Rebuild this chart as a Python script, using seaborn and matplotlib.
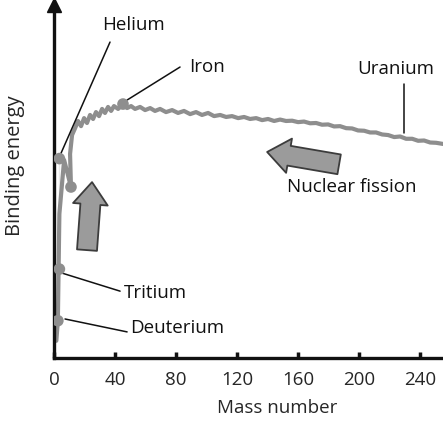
import numpy as np
import pandas as pd
import matplotlib
matplotlib.use("Agg")
import matplotlib.pyplot as plt
import seaborn as sns

# binding-energy curve (mass number, energy in MeV-ish units)
mass = [1.5, 2.5, 3.5, 3.5, 6.6, 11.1, 10.5, 10.5, 11.8,
        13.8, 15.7, 17.7, 19.7, 21.6, 23.6, 25.6, 27.5, 29.5, 31.5, 33.4, 35.4, 37.4, 39.3, 42.0, 45.2,
        47.9, 50.5, 53.1, 56.4, 59.7, 63.0, 66.2, 69.5, 73.4, 77.4, 81.3, 85.2, 89.2, 93.1, 97.0,
        101.0, 104.9, 108.9, 112.8, 116.7, 120.7, 124.6, 128.5, 132.5, 136.4, 140.3, 144.3, 148.2,
        152.1, 156.1, 160.0, 163.9, 167.9, 171.8, 175.7, 179.7, 183.6, 187.5, 191.5, 195.4, 199.3,
        203.3, 207.2, 211.1, 215.1, 219.0, 223.0, 226.9, 230.8, 234.8, 238.7, 242.6, 246.6, 250.5, 255.0]
binding = [0.6, 1.3, 3.1, 6.95, 6.9, 5.96, 6.9, 7.32, 7.77,
           8.01, 8.26, 8.08, 8.36, 8.19, 8.47, 8.33, 8.57, 8.43, 8.68, 8.54, 8.75, 8.61, 8.78, 8.68, 8.85,
           8.71, 8.78, 8.68, 8.75, 8.64, 8.71, 8.61, 8.68, 8.57, 8.64, 8.54, 8.61, 8.50, 8.57, 8.47,
           8.54, 8.43, 8.47, 8.40, 8.43, 8.36, 8.40, 8.33, 8.36, 8.29, 8.33, 8.26, 8.31,
           8.26, 8.27, 8.22, 8.24, 8.18, 8.19, 8.13, 8.14, 8.07, 8.08, 8.01, 8.00, 7.93,
           7.92, 7.86, 7.86, 7.79, 7.77, 7.70, 7.72, 7.64, 7.64, 7.57, 7.58, 7.51, 7.50, 7.46]

# highlighted nuclei (dots on the curve)
dot_mass = [2.5, 3.5, 3.5, 11.1, 45.2]
dot_binding = [1.3, 3.1, 6.95, 5.96, 8.85]

# labels: text, text position, leader line start / end
labels = ["Helium", "Iron", "Uranium", "Tritium", "Deuterium"]
label_xy = [(51.8, 11.6), (100.3, 10.14), (224.3, 10.07), (45.9, 2.26), (49.8, 1.05)]
label_ha = ["center", "center", "center", "left", "left"]
leader_from = [(2.6, 6.9), (47.9, 8.99), (229.5, 7.84), (5.2, 2.96), (7.2, 1.36)]
leader_to = [(36.7, 11.01), (82.6, 10.14), (229.5, 9.55), (43.3, 2.33), (47.9, 0.91)]

x_ticks = [0, 40, 80, 120, 160, 200, 240]

df = pd.DataFrame({"mass": mass, "binding": binding})
dots = pd.DataFrame({"mass": dot_mass, "binding": dot_binding})

sns.set_style("white")
plt.rcParams["font.family"] = ["Open Sans", "DejaVu Sans"]

fig = plt.figure(figsize=(4.43, 4.21), dpi=100)
ax = fig.add_axes([0.122, 0.1496, 0.878, 0.8384])

CURVE = "#8e8e8e"
INK = "#111111"
FS = 13.5
sns.lineplot(data=df, x="mass", y="binding", sort=False, color=CURVE, lw=3.0, ax=ax)
sns.scatterplot(data=dots, x="mass", y="binding", color=CURVE, s=70, edgecolor="none", ax=ax, zorder=3)

for txt, xy, ha, a, b in zip(labels, label_xy, label_ha, leader_from, leader_to):
    ax.text(xy[0], xy[1], txt, ha=ha, va="center", fontsize=FS, color=INK)
    ax.plot([a[0], b[0]], [a[1], b[1]], color=INK, lw=1.1)

# fat gray arrows
arrow_style = "simple,head_length=0.8,head_width=1.25,tail_width=0.72"
ax.annotate("", xy=(24.9, 6.13), xytext=(21.6, 3.76),
            arrowprops=dict(arrowstyle=arrow_style, fc="#9b9b9b", ec="#3c3c3c", lw=1.3,
                            shrinkA=0, shrinkB=0, mutation_scale=20))
ax.annotate("", xy=(139.7, 7.18), xytext=(186.9, 6.75),
            arrowprops=dict(arrowstyle=arrow_style, fc="#9b9b9b", ec="#3c3c3c", lw=1.3,
                            shrinkA=0, shrinkB=0, mutation_scale=20))
ax.text(195.4, 5.96, "Nuclear fission", ha="center", va="center", fontsize=FS, color=INK)

ax.set_xlim(0, 255)
ax.set_ylim(0, 12.3)
ax.set_xticks(x_ticks)
ax.set_yticks([])
ax.tick_params(axis="x", direction="in", length=4, width=2.5, color=INK,
               labelsize=FS, pad=9, bottom=True)
for s in ["top", "right"]:
    ax.spines[s].set_visible(False)
for s in ["left", "bottom"]:
    ax.spines[s].set_color(INK)
    ax.spines[s].set_linewidth(2.4)
ax.plot(0, 1, marker="^", color=INK, markersize=10, transform=ax.get_xaxis_transform(),
        clip_on=False)

ax.set_xlabel("Mass number", fontsize=FS)
ax.set_ylabel("Binding energy", fontsize=14.5)
ax.xaxis.set_label_coords(0.573, -0.117)
ax.yaxis.set_label_coords(-0.075, 0.544)

fig.savefig("out.png", dpi=100)
